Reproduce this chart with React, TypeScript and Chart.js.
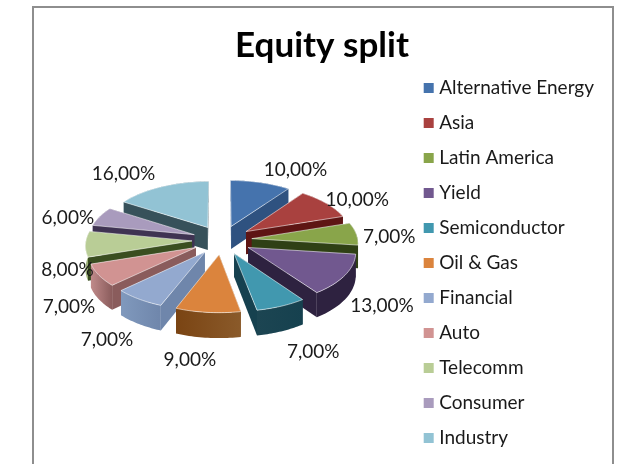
import React, { useEffect, useRef } from "react";
import { Chart, registerables } from "chart.js";

Chart.register(...registerables);

const categories = ["Alternative Energy", "Asia", "Latin America", "Yield", "Semiconductor", "Oil & Gas", "Financial", "Auto", "Telecomm", "Consumer", "Industry"];
const shares = [10, 10, 7, 13, 7, 9, 7, 7, 8, 6, 16];
const topColors = ["#4573AD", "#A9413F", "#89A54A", "#71588F", "#4198AF", "#DB843D", "#93A9CF", "#D19392", "#B9CD96", "#A99BBD", "#92C3D4"];
const wallColors = ["#2F5280", "#5E1514", "#2F4015", "#2E2240", "#16414F", "#8A5A2A", "#6F86AB", "#8A5C5C", "#3A4E20", "#3F3352", "#37515A"];
const rimColors = ["#2F5280", "#7A2B2A", "#5F7A30", "#2E2240", "#1C4552", "#7A4413", "#8099BD", "#C08A8A", "#9DB07A", "#7D6E92", "#6E98A8"];
const labelNudges = [[35, -13], [31, -3], [33, 3], [37, 31], [32, 46], [-18, 47], [-32, 41], [-30, 32], [-18, 26], [-32, 1], [-38, -13]];

const titleText = "Equity split";
const FONT = "Lato, Carlito, sans-serif";
const TILT = 0.484;
const PERSPECTIVE = 0.0007;
const DEPTH = 23;
const EXPLODE = 30;
const RADIUS = 106;
const CENTER_X = 222;
const CENTER_Y = 240;

function project(cx: number, cy: number, x: number, y: number, z: number) {
  const s = 1 / (1 - PERSPECTIVE * y);
  return [cx + x * s, cy + y * TILT * s + z * s];
}

const pie3d = {
  id: "pie3d",
  beforeDraw(chart: any) {
    const { ctx } = chart;
    ctx.save();
    ctx.fillStyle = "#ffffff";
    ctx.fillRect(0, 0, chart.width, chart.height);
    ctx.strokeStyle = "#8E8E8E";
    ctx.lineWidth = 2;
    ctx.beginPath();
    ctx.moveTo(33, 470);
    ctx.lineTo(33, 7);
    ctx.lineTo(613, 7);
    ctx.lineTo(613, 470);
    ctx.stroke();
    ctx.restore();
  },
  beforeDatasetDraw(chart: any) {
    const { ctx } = chart;
    const arcs = chart.getDatasetMeta(0).data;
    const items = arcs.map((arc: any, i: number) => {
      const { startAngle, endAngle, outerRadius } = arc.getProps(["startAngle", "endAngle", "outerRadius"], true);
      const mid = (startAngle + endAngle) / 2;
      const ox = Math.cos(mid) * EXPLODE;
      const oy = Math.sin(mid) * EXPLODE;
      const rim: [number, number][] = [];
      const steps = 24;
      for (let k = 0; k <= steps; k++) {
        const a = startAngle + ((endAngle - startAngle) * k) / steps;
        rim.push([ox + Math.cos(a) * outerRadius, oy + Math.sin(a) * outerRadius]);
      }
      return { i, mid, ox, oy, rim, outerRadius };
    });
    items.sort((a: any, b: any) => a.oy - b.oy);
    const x = CENTER_X;
    const cy = CENTER_Y;
    const poly = (pts: number[][], fill: any, stroke?: string) => {
      ctx.beginPath();
      pts.forEach((p, n) => (n ? ctx.lineTo(p[0], p[1]) : ctx.moveTo(p[0], p[1])));
      ctx.closePath();
      ctx.fillStyle = fill;
      ctx.fill();
      if (stroke) {
        ctx.strokeStyle = stroke;
        ctx.lineWidth = 1;
        ctx.stroke();
      }
    };
    ctx.save();
    for (const it of items) {
      const { i, ox, oy, rim } = it;
      const P = (p: number[], z: number) => project(x, cy, p[0], p[1], z);
      const tip = [ox, oy];
      const first = rim[0];
      const last = rim[rim.length - 1];
      const walls: { y: number; pts: number[][]; fill: any }[] = [
        { y: (tip[1] + first[1]) / 2, pts: [P(tip, 0), P(first, 0), P(first, DEPTH), P(tip, DEPTH)], fill: wallColors[i] },
        { y: (tip[1] + last[1]) / 2, pts: [P(tip, 0), P(last, 0), P(last, DEPTH), P(tip, DEPTH)], fill: wallColors[i] },
      ];
      const a = P(first, 0);
      const b = P(last, 0);
      const grad = ctx.createLinearGradient(Math.min(a[0], b[0]), 0, Math.max(a[0], b[0]), 0);
      grad.addColorStop(0, rimColors[i]);
      grad.addColorStop(1, wallColors[i]);
      const rimPts = [...rim.map((p: number[]) => P(p, 0)), ...[...rim].reverse().map((p: number[]) => P(p, DEPTH))];
      walls.push({ y: rim[Math.floor(rim.length / 2)][1], pts: rimPts, fill: grad });
      walls.sort((p, q) => p.y - q.y);
      walls.forEach((w) => poly(w.pts, w.fill));
      poly([P(tip, 0), ...rim.map((p: number[]) => P(p, 0))], topColors[i], "rgba(255,255,255,0.55)");
    }
    ctx.restore();

    ctx.save();
    ctx.fillStyle = "#1A1A1A";
    ctx.font = `19px ${FONT}`;
    ctx.textAlign = "center";
    ctx.textBaseline = "middle";
    for (const it of items) {
      const m = it.mid;
      const p = project(x, cy, it.ox + Math.cos(m) * it.outerRadius, it.oy + Math.sin(m) * it.outerRadius, 0);
      const text = shares[it.i].toFixed(2).replace(".", ",") + "%";
      ctx.fillText(text, p[0] + labelNudges[it.i][0], p[1] + labelNudges[it.i][1]);
    }
    ctx.restore();
    return false;
  },
};

export default function App() {
  const ref = useRef<HTMLCanvasElement>(null);
  useEffect(() => {
    document.body.style.margin = "0";
    const chart = new Chart(ref.current!, {
      type: "pie",
      data: {
        labels: categories,
        datasets: [{ data: shares, backgroundColor: topColors, borderWidth: 0, radius: RADIUS }],
      },
      plugins: [pie3d],
      options: {
        responsive: false,
        animation: false,
        layout: { padding: { left: 40, right: 20, top: 22, bottom: -40 } },
        plugins: {
          tooltip: { enabled: false },
          title: {
            display: true,
            text: titleText,
            color: "#000000",
            font: { family: FONT, size: 35, weight: "bold" },
            padding: { top: 3, bottom: 0 },
          },
          legend: {
            display: true,
            position: "right",
            labels: {
              usePointStyle: true,
              pointStyle: "rect",
              boxWidth: 2,
              boxHeight: 10,
              padding: 16,
              color: "#1A1A1A",
              font: { family: FONT, size: 19 },
            },
          },
        },
      } as any,
    });
    return () => chart.destroy();
  }, []);
  return (
    <div style={{ width: 624, height: 464, overflow: "hidden" }}>
      <canvas ref={ref} width={624} height={464} style={{ display: "block" }} />
    </div>
  );
}
